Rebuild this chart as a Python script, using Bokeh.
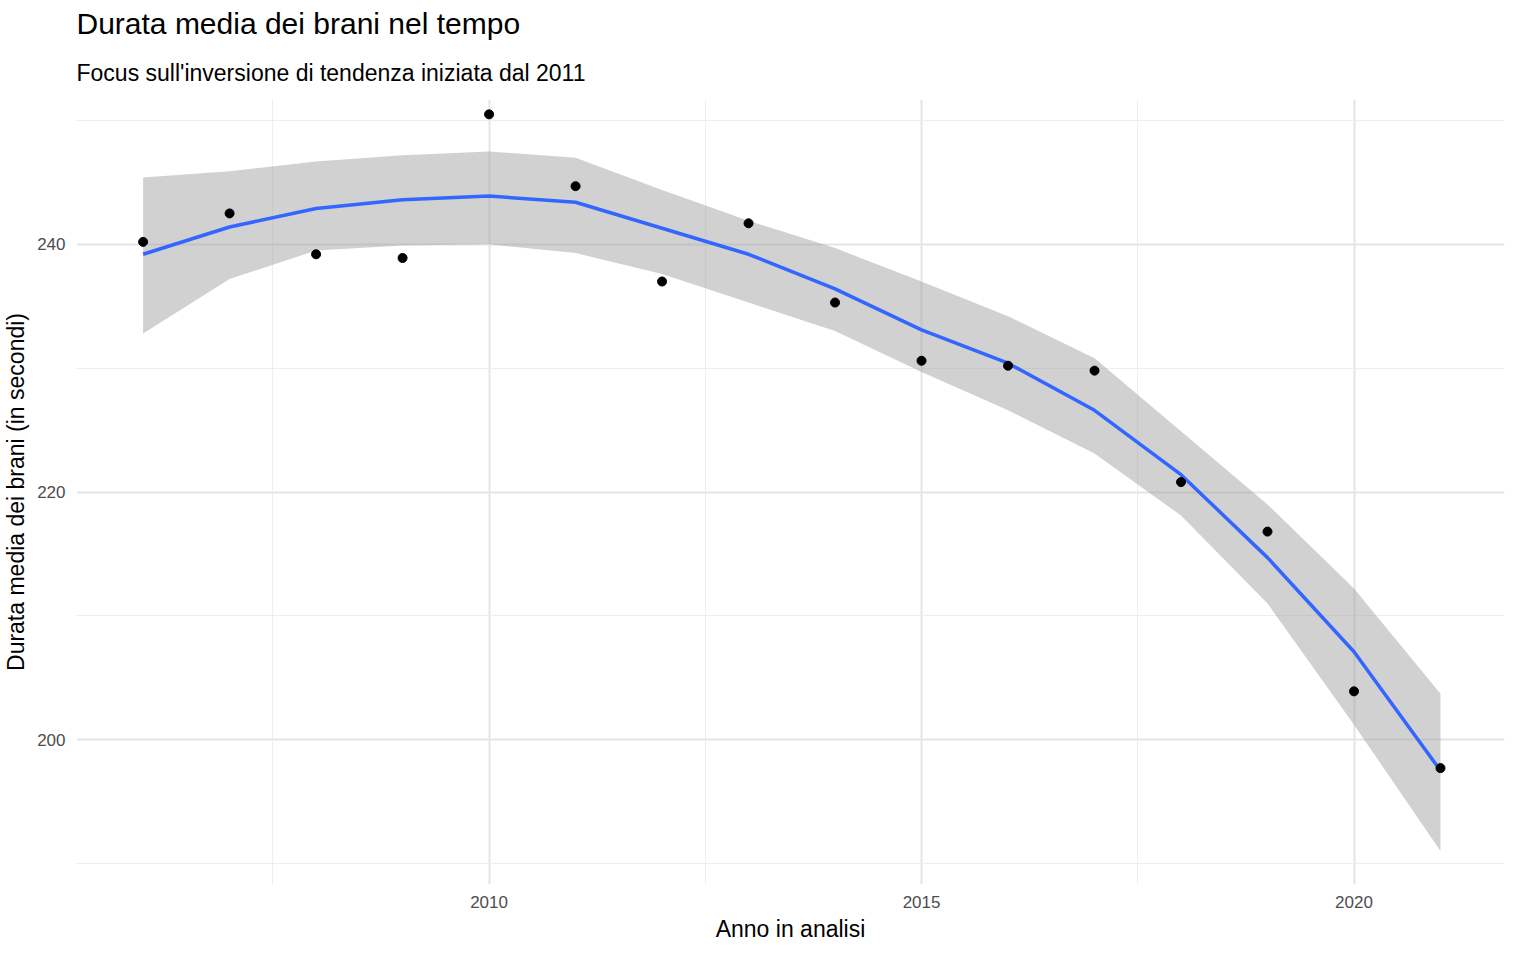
from bokeh.plotting import figure
from bokeh.models import FixedTicker, Title, ColumnDataSource
from bokeh.embed import file_html
from bokeh.resources import INLINE

# dati
anni = list(range(2006, 2022))
durata = [240.2, 242.5, 239.2, 238.9, 250.5, 244.7, 237.0, 241.7,
          235.3, 230.6, 230.2, 229.8, 220.8, 216.8, 203.9, 197.7]
smooth = [239.2, 241.4, 242.9, 243.6, 243.9, 243.4, 241.3, 239.2,
          236.4, 233.1, 230.4, 226.6, 221.4, 214.7, 207.1, 197.5]
upper = [245.4, 245.9, 246.7, 247.2, 247.5, 247.0, 244.4, 241.9,
         239.7, 237.0, 234.2, 230.8, 224.9, 219.0, 212.2, 203.7]
lower = [232.8, 237.2, 239.5, 239.9, 240.0, 239.3, 237.6, 235.3,
         233.0, 229.7, 226.6, 223.1, 218.1, 211.0, 201.2, 191.0]

src = ColumnDataSource(dict(anno=anni, durata=durata, smooth=smooth, upper=upper, lower=lower))

FONT = "Liberation Sans"

p = figure(width=1520, height=944, output_backend="svg", toolbar_location=None,
           x_range=(2005.23, 2021.74), y_range=(188.3, 251.7),
           x_axis_label="Anno in analisi", y_axis_label="Durata media dei brani (in secondi)",
           min_border_left=65, min_border_right=16, min_border_bottom=20, min_border_top=10)
p.outline_line_color = None

p.add_layout(Title(text="Focus sull'inversione di tendenza iniziata dal 2011", text_font=FONT,
                   text_font_size="23px", text_font_style="normal", align="left",
                   text_color="black", standoff=28), "above")
p.add_layout(Title(text="Durata media dei brani nel tempo", text_font=FONT,
                   text_font_size="30px", text_font_style="normal", align="left",
                   text_color="black", standoff=8), "above")

p.varea(x="anno", y1="lower", y2="upper", source=src, fill_color="#999999", fill_alpha=0.45)
p.line(x="anno", y="smooth", source=src, line_color="#3366FF", line_width=3.5)
p.scatter(x="anno", y="durata", source=src, size=9, color="black")

p.xaxis.ticker = FixedTicker(ticks=[2010, 2015, 2020], minor_ticks=[2007.5, 2012.5, 2017.5])
p.yaxis.ticker = FixedTicker(ticks=[200, 220, 240], minor_ticks=[190, 210, 230, 250])
for ax in (p.xaxis, p.yaxis):
    ax.axis_line_color = None
    ax.major_tick_line_color = None
    ax.minor_tick_line_color = None
    ax.major_label_text_font = FONT
    ax.major_label_text_font_size = "17px"
    ax.major_label_text_color = "#4d4d4d"
    ax.axis_label_text_font = FONT
    ax.axis_label_text_font_size = "23px"
    ax.axis_label_text_font_style = "normal"
    ax.axis_label_text_color = "black"
for g in (p.xgrid, p.ygrid):
    g.grid_line_color = "#e5e5e5"
    g.grid_line_width = 2
    g.minor_grid_line_color = "#eeeeee"
    g.minor_grid_line_width = 1.2

open("out.html", "w").write(file_html(p, INLINE))
